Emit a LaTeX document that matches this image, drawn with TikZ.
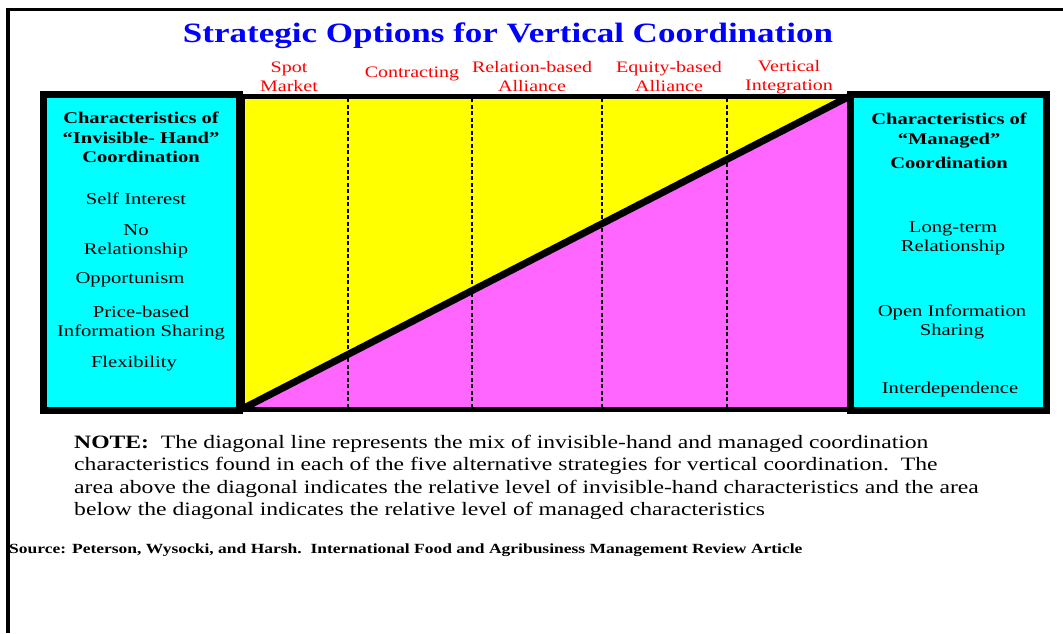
\documentclass[tikz,border=0pt]{standalone}
\usepackage{fontspec}
\setmainfont{Liberation Serif}[FakeStretch=1.25]
\definecolor{invisible}{RGB}{255,255,0}
\definecolor{managed}{RGB}{255,102,255}
\definecolor{sidefill}{RGB}{0,255,255}
\definecolor{titleblue}{RGB}{0,0,255}
\definecolor{optionred}{RGB}{255,0,0}
\begin{document}
\begin{tikzpicture}[x=1pt, y=-1pt,
	option/.style={text=optionred, align=center, inner sep=0pt, font=\fontsize{16}{19}\selectfont},
	heading/.style={align=center, inner sep=0pt, font=\bfseries\fontsize{16.4}{19.5}\selectfont},
	trait/.style={align=center, inner sep=0pt, font=\fontsize{16.5}{19}\selectfont},
	sidebox/.style={fill=sidefill, line width=7pt}]
	\useasboundingbox (0,0) rectangle (1063,633);
	\coordinate (A) at (242,409);
	\coordinate (B) at (850,96);
	\coordinate (C) at (242,96);
	\coordinate (D) at (850,409);
	
	\draw [line width=3.5pt] (8,633) -- (8,9.5) -- (1063,9.5);
	\fill [invisible] (A) -- (C) -- (B) -- cycle;
	\fill [managed] (A) -- (B) -- (D) -- cycle;
	\foreach \x in {348, 472, 602, 727}
		\draw [line width=1.2pt, dash pattern=on 4pt off 2.5pt] (\x,98) -- (\x,407);
	\draw [line width=5pt] (C) rectangle (D);
	\draw [line width=7pt] (A) -- (B);
	\draw [sidebox] (43.5,94.5) rectangle (239,410.5);
	\draw [sidebox] (850.5,94.5) rectangle (1046.5,410.5);
	
	\node (title) [text=titleblue, inner sep=0pt, font=\bfseries\fontsize{28}{32}\selectfont] at (508,36) {Strategic Options for Vertical Coordination};
	\node (spot) [option] at (289,77) {Spot\\Market};
	\node (contract) [option] at (412,74) {Contracting};
	\node (relation) [option] at (532,77) {Relation-based\\Alliance};
	\node (equity) [option] at (669,77) {Equity-based\\Alliance};
	\node (vertical) [option] at (789,77) {Vertical\\Integration};
	
	\node (invisiblehead) [heading] at (141,137.5) {Characteristics of\\``Invisible- Hand''\\Coordination};
	\node (self) [trait] at (136,198.5) {Self Interest};
	\node (norel) [trait] at (136,241) {No\\Relationship};
	\node (opport) [trait] at (130,279.5) {Opportunism};
	\node (price) [trait] at (141,323) {Price-based\\Information Sharing};
	\node (flex) [trait] at (134,363.5) {Flexibility};
	
	\node (managedhead) [heading] at (949,141) {Characteristics of\\``Managed''\\[5pt]Coordination};
	\node (longterm) [trait] at (953,238.5) {Long-term\\Relationship};
	\node (openinfo) [trait] at (952,322) {Open Information\\Sharing};
	\node (interdep) [trait] at (950,389.5) {Interdependence};
	
	\node (note) [anchor=west, align=left, inner sep=0pt, font=\fontsize{18.9}{22.4}\selectfont] at (74,477.5) {\textbf{NOTE:}\ \ The diagonal line represents the mix of invisible-hand and managed coordination\\characteristics found in each of the five alternative strategies for vertical coordination.\ \ The\\area above the diagonal indicates the relative level of invisible-hand characteristics and the area\\below the diagonal indicates the relative level of managed characteristics};
	\node (source) [anchor=west, inner sep=0pt, font=\bfseries\fontsize{14}{16}\selectfont] at (9,550) {Source: Peterson, Wysocki, and Harsh.\ \ International Food and Agribusiness Management Review Article};
\end{tikzpicture}
\end{document}
